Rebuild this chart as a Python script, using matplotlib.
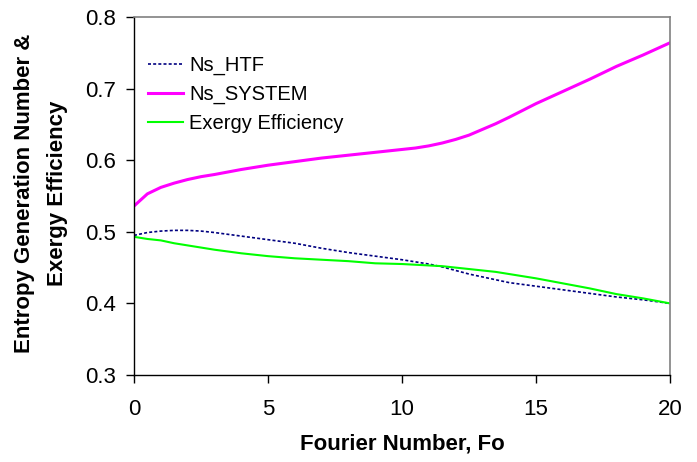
import matplotlib
matplotlib.use("Agg")
import matplotlib.pyplot as plt

plt.rcParams['font.family'] = ['Liberation Sans', 'DejaVu Sans']

fo = [0, 0.5, 1, 1.5, 2, 2.5, 3, 4, 5, 6, 7, 8, 9, 10, 10.5, 11, 11.5, 12, 12.5, 13, 13.5,
      14, 15, 16, 17, 18, 19, 20]
ns_htf = [0.495, 0.499, 0.501, 0.502, 0.502, 0.501, 0.499, 0.494, 0.489, 0.484, 0.477, 0.471,
          0.466, 0.461, 0.458, 0.455, 0.451, 0.446, 0.441, 0.437, 0.433, 0.429, 0.424, 0.419,
          0.414, 0.409, 0.405, 0.400]
ns_system = [0.536, 0.553, 0.562, 0.568, 0.573, 0.577, 0.580, 0.587, 0.593, 0.598, 0.603, 0.607,
             0.611, 0.615, 0.617, 0.620, 0.624, 0.629, 0.635, 0.643, 0.651, 0.660, 0.679, 0.696,
             0.713, 0.731, 0.747, 0.764]
exergy = [0.493, 0.490, 0.488, 0.484, 0.481, 0.478, 0.475, 0.470, 0.466, 0.463, 0.461, 0.459,
          0.456, 0.455, 0.454, 0.453, 0.452, 0.450, 0.448, 0.446, 0.444, 0.441, 0.435, 0.428,
          0.421, 0.413, 0.407, 0.400]

x_ticks = [0, 5, 10, 15, 20]
y_ticks = [0.3, 0.4, 0.5, 0.6, 0.7, 0.8]

W, H = 697, 462
fig = plt.figure(figsize=(W / 100, H / 100), dpi=100)
ax = fig.add_axes([134 / W, 1 - 375 / H, (670 - 134) / W, (375 - 17) / H])

ax.plot(fo, ns_htf, color='#000080', lw=1.2, linestyle=(0, (1.8, 1.3)), label='Ns_HTF')
ax.plot(fo, ns_system, color='#ff00ff', lw=2.2, label='Ns_SYSTEM')
ax.plot(fo, exergy, color='#00ff00', lw=1.5, label='Exergy Efficiency')

ax.set_xlim(0, 20)
ax.set_ylim(0.3, 0.8)
ax.set_xticks(x_ticks)
ax.set_xticklabels([str(t) for t in x_ticks])
ax.set_yticks(y_ticks)
ax.set_yticklabels([f"{t:.1f}" for t in y_ticks])

for s in ['top', 'right']:
    ax.spines[s].set_color('#808080')
    ax.spines[s].set_linewidth(1.2)
for s in ['left', 'bottom']:
    ax.spines[s].set_color('black')
    ax.spines[s].set_linewidth(1.0)

ax.tick_params(axis='both', direction='out', length=6, width=1, labelsize=16, colors='black')
ax.tick_params(axis='x', pad=11)
ax.tick_params(axis='y', pad=7)

ax.set_xlabel('Fourier Number, Fo', fontsize=16, fontweight='bold', labelpad=10)
fig.text(41 / W, 1 - 193 / H, 'Entropy Generation Number &\nExergy Efficiency',
         rotation=90, ha='center', va='center', multialignment='center',
         fontsize=16, fontweight='bold', linespacing=1.7)

leg = ax.legend(loc='upper left', bbox_to_anchor=(148 / W, 1 - 56 / H),
                bbox_transform=fig.transFigure, frameon=False, fontsize=14.5,
                handlelength=1.75, handletextpad=0.3, labelspacing=0.48,
                borderpad=0, borderaxespad=0)

fig.savefig('out.png', dpi=100)
